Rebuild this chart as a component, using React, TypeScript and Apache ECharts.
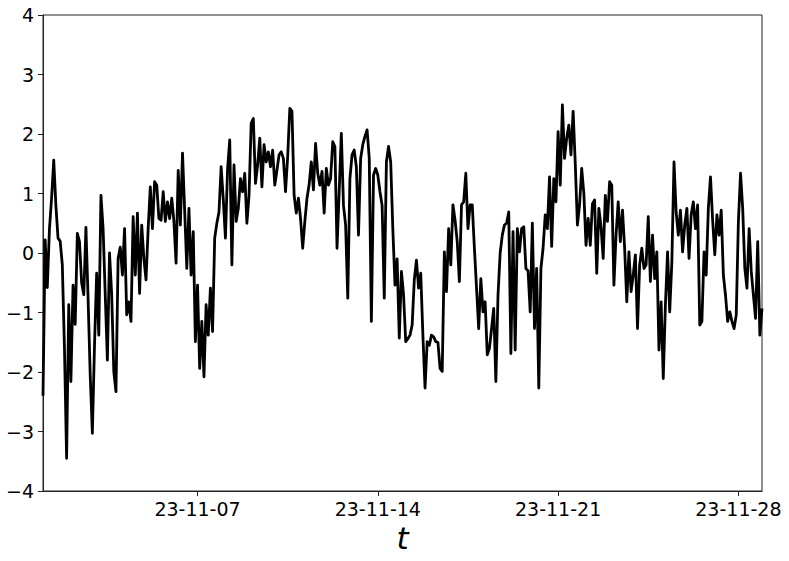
import React, { useEffect, useRef } from "react";
import * as echarts from "echarts";

// Sampling: 2-hourly from 2023-11-01 00:00 (UTC)
const startDate = "2023-11-01T00:00:00Z";
const stepHours = 2;

const values1 = [-2.4, 0.22, -0.58, 0.4, 0.92, 1.56, 0.8, 0.25, 0.2, -0.2, -1.6, -3.45, -0.87, -2.16, -0.54, -1.2, 0.33, 0.19, -0.5, -0.7, 0.43, -0.76, -2.05, -3.03, -1.55, -0.34, -1.38, 0.97, 0.41, -0.7, -1.8, 0, -0.7, -2.0, -2.33, -0.09, 0.1, -0.37, 0.41, -1.04, -0.82];
const values2 = [-1.15, 0.61, -0.37, 0.67, -0.68, 0.47, -0.09, -0.45, 0.41, 1.11, 0.41, 1.2, 1.14, 0.58, 0.55, 1.03, 0.53, 0.86, 0.58, 0.92, 0.53, -0.17, 1.39, 0.47, 1.68, 0.72, -0.26, 0.75, -0.37, 0.36, -1.49, -0.54, -1.94, -1.15, -2.08, -0.87, -1.38, -0.59, -1.32, 0.25, 0.5, 0.69];
const values3 = [1.45, 0.9, 0.25, 1.42, 1.9, -0.2, 1.48, 0.53, 0.75, 1.25, 1.03, 1.34, 0.5, 0.97, 2.18, 2.26, 1.17, 1.48, 1.93, 1.11, 1.82, 1.53, 1.7, 1.45, 1.73, 1.14, 1.39, 1.65, 1.7, 1.59, 1.03, 1.62, 2.43, 2.38, 0.97, 0.67, 0.92, 0.58, 0.08, 0.53, 0.92, 1.15];
const values4 = [1.53, 1.06, 1.84, 1.34, 1.14, 1.37, 0.67, 1.42, 1.14, 1.25, 1.87, 1.79, 0.08, 1.03, 2.01, 0.8, 0.47, -0.76, 1.25, 1.65, 1.73, 1.45, 0.3, 1.59, 1.82, 1.96, 2.07, 1.6, -1.15, 1.31, 1.42, 1.31, 1.03, 0.8, -0.76, 1.53, 1.79, 1.53, 0.4, -0.54, -0.1, -1.43];
const values5 = [-0.31, -0.71, -1.49, -1.44, -1.38, -1.21, -0.45, -0.12, -0.59, -0.34, -1.38, -2.27, -1.49, -1.55, -1.38, -1.41, -1.49, -1.5, -1.94, -1.99, 0.02, -0.65, 0.41, -0.2, 0.81, 0.55, 0.19, -0.48, 0.81, 0.86, 1.34, 0.41, 0.81, 0.81, 0.08, -0.59, -1.27, -0.43, -0.99, -0.82, -1.71, -1.6];
const values6 = [-1.27, -0.93, -2.16, -0.71, 0.0, 0.3, 0.47, 0.5, 0.69, -1.69, 0.36, -1.63, 0.41, 0.02, 0.41, 0.44, -0.26, -0.3, -0.99, 0.5, -1.27, -0.26, -2.27, -0.26, 0.08, 0.64, 0.41, 1.28, 0.11, 1.25, 0.86, 2.04, 1.14, 2.49, 1.59, 1.93, 2.15, 1.65, 2.38, 1.5, 0.47, 0.81];
const values7 = [1.42, 1.0, 0.13, 0.58, 0.13, 0.83, 0.89, -0.34, 0.75, 0.44, -0.09, 0.97, 0.53, 1.2, 1.14, -0.54, 0.3, 0.86, 0.19, 0.72, 0.08, -0.82, 0.02, -0.65, -0.37, -0.03, -1.27, -0.2, 0.08, -0.26, -0.2, 0.61, -0.48, 0.3, -0.43, 0.02, -1.63, -0.82, -2.11, -0.87, 0.02, -0.99];
const values8 = [-0.15, 1.53, 0.69, 0.3, 0.72, 0.02, 0.47, 0.75, -0.09, 0.64, 0.86, 0.41, 0.81, -1.21, -1.15, 0.02, -0.37, 0.75, 1.28, 0.55, -0.03, 0.64, 0.3, 0.72, -0.37, -0.71, -1.15, -0.99, -1.15, -1.27, -1.04, 0.53, 1.34, 0.75, -0.26, -0.59, 0.41, -0.31, -0.71, -1.1, 0.19, -1.38, -0.93];

const tickDates = ["2023-11-07", "2023-11-14", "2023-11-21", "2023-11-28"];
const yMin = -4;
const yMax = 4;
const yInterval = 1;
const xName = "t";

const FONT = "DejaVu Sans";

function fmtDate(v: number): string {
  const d = new Date(v);
  const yy = String(d.getUTCFullYear() % 100).padStart(2, "0");
  const mm = String(d.getUTCMonth() + 1).padStart(2, "0");
  const dd = String(d.getUTCDate()).padStart(2, "0");
  return `${yy}-${mm}-${dd}`;
}

export default function App() {
  const ref = useRef<HTMLDivElement>(null);
  useEffect(() => {
    if (!ref.current) return;
    const chart = echarts.init(ref.current, undefined, { renderer: "svg" });
    const values = [...values1, ...values2, ...values3, ...values4, ...values5, ...values6, ...values7, ...values8];
    const t0 = Date.parse(startDate);
    const step = stepHours * 3600 * 1000;
    const data = values.map((v, i) => [t0 + i * step, v]);
    const tickTs = tickDates.map((d) => Date.parse(d + "T00:00:00Z"));
    chart.setOption({
      animation: false,
      backgroundColor: "#fff",
      grid: {
        left: 43,
        right: 27,
        top: 15,
        bottom: 70,
        show: true,
        borderColor: "#222",
        borderWidth: 1,
        backgroundColor: "transparent",
      },
      xAxis: {
        type: "value",
        min: t0,
        max: t0 + (values.length - 1) * step,
        name: xName,
        nameLocation: "middle",
        nameGap: 27,
        nameTextStyle: { fontFamily: FONT, fontSize: 31, fontStyle: "italic", color: "#000" },
        axisLine: { show: true, onZero: false, lineStyle: { color: "#222", width: 1 } },
        axisTick: { show: true, inside: false, length: 5, customValues: tickTs, lineStyle: { color: "#222", width: 1 } },
        axisLabel: {
          customValues: tickTs,
          formatter: (v: number) => fmtDate(v),
          fontFamily: FONT,
          fontSize: 19,
          color: "#000",
          margin: 8,
        },
        splitLine: { show: false },
      },
      yAxis: {
        type: "value",
        min: yMin,
        max: yMax,
        interval: yInterval,
        axisLine: { show: true, onZero: false, lineStyle: { color: "#222", width: 1 } },
        axisTick: { show: true, inside: false, length: 5, lineStyle: { color: "#222", width: 1 } },
        axisLabel: {
          formatter: (v: number) => String(v).replace("-", "\u2212"),
          fontFamily: FONT,
          fontSize: 19,
          color: "#000",
          margin: 9,
        },
        splitLine: { show: false },
      },
      series: [
        {
          type: "line",
          data,
          showSymbol: false,
          symbol: "none",
          lineStyle: { color: "#000", width: 2.8, join: "round" },
          z: 3,
        },
      ],
    });
    return () => chart.dispose();
  }, []);
  return (
    <div
      ref={ref}
      style={{ position: "fixed", left: 0, top: 0, width: 789, height: 561, background: "#fff" }}
    />
  );
}
